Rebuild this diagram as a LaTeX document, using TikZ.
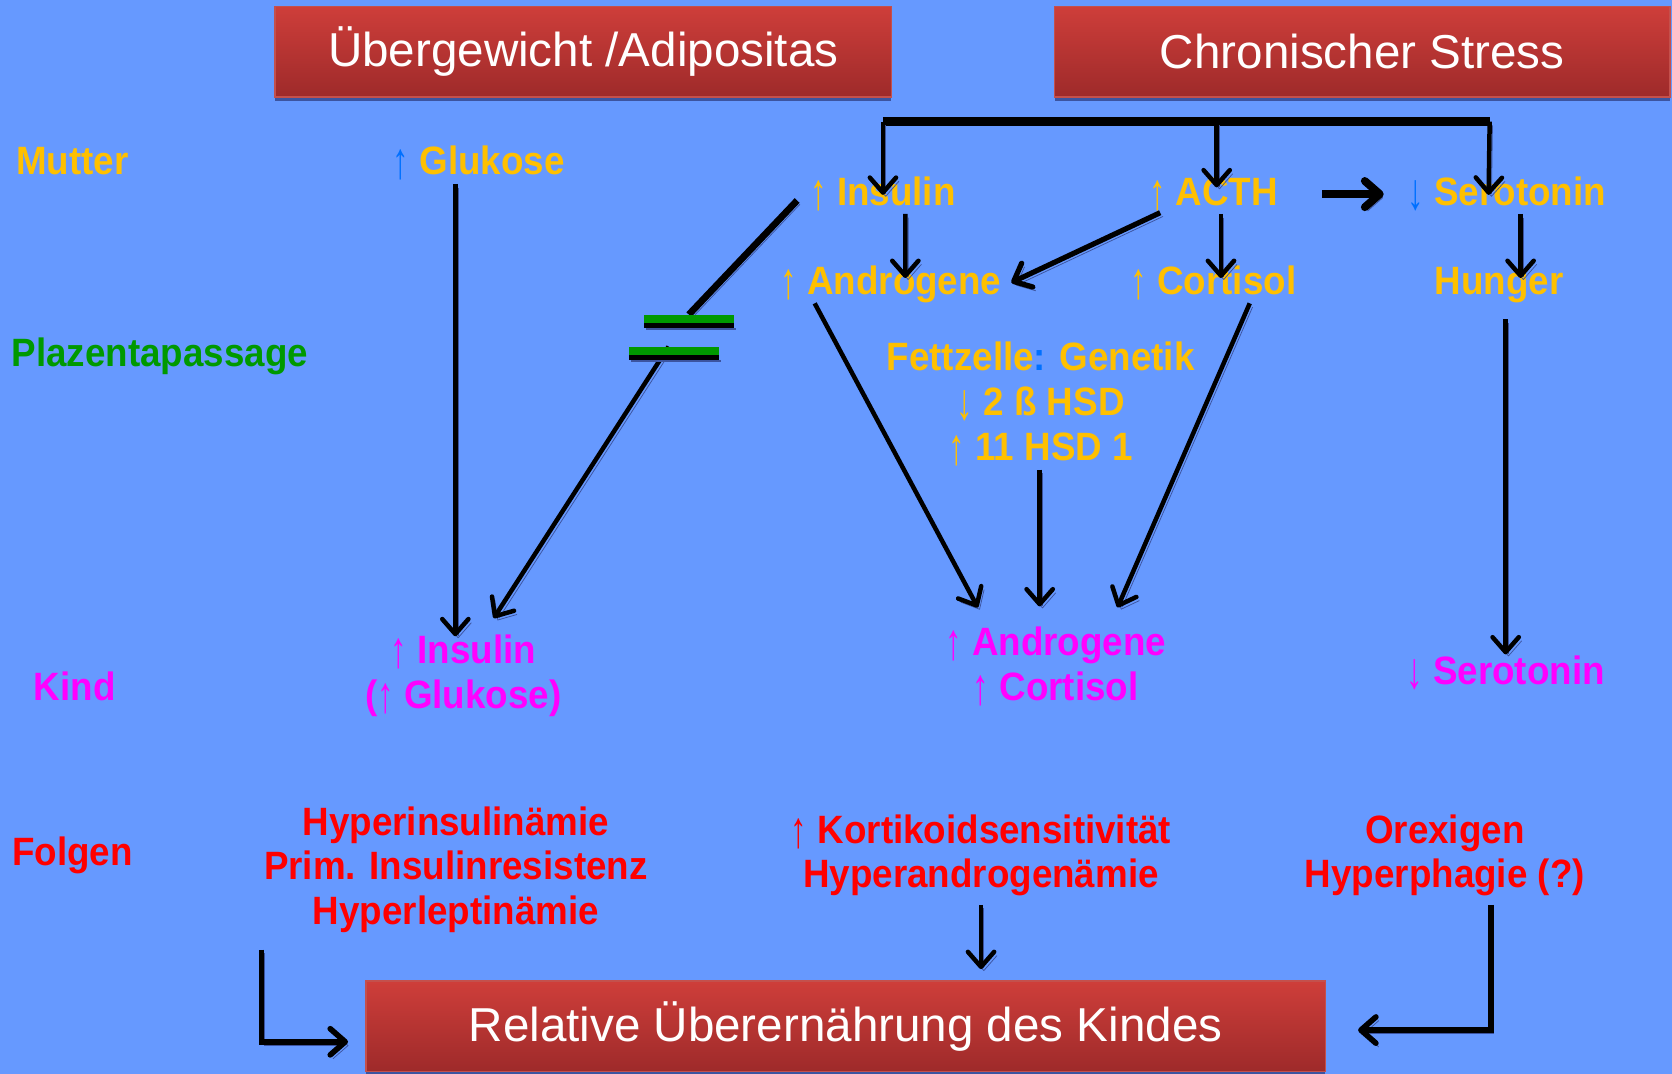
\documentclass[tikz,border=0pt]{standalone}
\usepackage{fontspec}
\usepackage{graphicx}
\setmainfont{Liberation Sans}
\newfontfamily\lblfont[FakeStretch=0.93]{Liberation Sans}
\usetikzlibrary{arrows.meta,calc,shadows}

\definecolor{bgblue}{RGB}{102,153,255}
\definecolor{orng}{RGB}{255,192,0}
\definecolor{abl}{RGB}{0,112,255}
\definecolor{grn}{RGB}{0,153,0}
\definecolor{mag}{RGB}{255,0,255}
\definecolor{rd}{RGB}{255,0,0}
\definecolor{boxtop}{RGB}{206,62,58}
\definecolor{boxbot}{RGB}{158,42,42}
\definecolor{boxedge}{RGB}{196,80,76}
\definecolor{shadowblue}{RGB}{60,84,160}

\newcommand\upar[1]{{\mdseries\color{#1}\raisebox{-0.1em}{\scalebox{0.9}[1.3]{↑}}}}
\newcommand\dnar[1]{{\mdseries\color{#1}\raisebox{-0.1em}{\scalebox{0.9}[1.3]{↓}}}}

\begin{document}
\begin{tikzpicture}[x=0.02cm,y=-0.02cm,
    lbl/.style={inner sep=0pt, text height=0.72em, text depth=0.2em, align=center, anchor=base,
        font=\lblfont\bfseries\fontsize{21.1}{23.8}\selectfont},
    redbox/.style={draw=boxedge, line width=0.8pt, top color=boxtop, bottom color=boxbot,
        minimum height=1.7cm, text=white, font=\fontsize{25.4}{30}\selectfont,
        drop shadow={shadow xshift=0pt, shadow yshift=-2pt, fill=shadowblue, opacity=1}},
    shadowed/.style={preaction={draw=shadowblue, transform canvas={shift={(1.5pt,-2pt)}}}},
    link/.style={-{Straight Barb[length=8pt,width=14pt,round]}, line width=2.4pt, shadowed},
    heavy/.style={link, line width=3pt},
    bus/.style={line width=4.5pt, shadowed}
]

    \useasboundingbox (0,0) rectangle (1568,1007);
    \fill[bgblue] (0,0) rectangle (1568,1007);

    % Red title boxes
    \node[redbox, minimum width=11.56cm] (adip) at (547,48.5) {Übergewicht /Adipositas};
    \node[redbox, minimum width=11.54cm] (stress) at (1277.5,48.5) {Chronischer Stress};
    \node[redbox, minimum width=18cm] (ueber) at (793,962.5) {Relative Überernährung des Kindes};

    % Row labels
    \node[lbl, text=orng] (mut) at (68,164) {Mutter};
    \node[lbl, text=grn] (plz) at (150,344) {Plazentapassage};
    \node[lbl, text=mag] (kind) at (70,657) {Kind};
    \node[lbl, text=rd] (folg) at (68,812) {Folgen};

    % Mother
    \node[lbl, text=orng] (gluM) at (449,164) {\upar{abl} Glukose};
    \node[lbl, text=orng] (insM) at (828,193) {\upar{orng} Insulin};
    \node[lbl, text=orng] (acth) at (1138,193) {\upar{orng} ACTH};
    \node[lbl, text=orng] (serM) at (1413,193) {\dnar{abl} Serotonin};
    \node[lbl, text=orng] (andM) at (835.5,276) {\upar{orng} Androgene};
    \node[lbl, text=orng] (corM) at (1138,276) {\upar{orng} Cortisol};
    \node[lbl, text=orng] (hung) at (1406,276) {Hunger};
    \node[lbl, text=orng] (fett) at (976,431.5) {Fettzelle{\color{abl}:} Genetik\\
        \dnar{orng} 2 ß HSD\\ \upar{orng} 11 HSD 1};

    % Child
    \node[lbl, text=mag] (insK) at (434.5,664.5) {\upar{mag} Insulin\\(\upar{mag} Glukose)};
    \node[lbl, text=mag] (hormK) at (990,657) {\upar{mag} Androgene\\\upar{mag} Cortisol};
    \node[lbl, text=mag] (serK) at (1412,642) {\dnar{mag} Serotonin};

    % Consequences
    \node[lbl, text=rd] (folgA) at (427.5,867) {Hyperinsulinämie\\Prim. Insulinresistenz\\Hyperleptinämie};
    \node[lbl, text=rd] (folgB) at (920,832.5) {\upar{rd} Kortikoidsensitivität\\Hyperandrogenämie};
    \node[lbl, text=rd] (folgC) at (1355,832.5) {Orexigen\\Hyperphagie (?)};

    % Stress bus
    \coordinate (busL) at (828,114);
    \coordinate (busM) at (1141,114);
    \coordinate (busR) at (1397,114);
    \draw[bus] (busL) -- (busR);
    \draw[link] (busL) -- ($(insM.north)+(0,2.7)$);
    \draw[link] (busM) -- ($(acth.north)+(3,-4.3)$);
    \draw[link] (busR) -- ($(serM.north)+(-17,2.7)$);

    % Mother level arrows
    \draw[link] ($(insM.south)+(21,3.6)$) -- ($(andM.north)+(13.5,-2.3)$);
    \draw[link, line width=2.8pt] ($(acth.south)+(-50,2.6)$) -- ($(andM.east)+(9,-6.4)$);
    \draw[link] ($(acth.south)+(7,3.6)$) -- ($(corM.north)+(7,-2.3)$);
    \draw[link, line width=4.2pt] ($(acth.east)+(41,-6.4)$) -- ($(serM.west)+(-22,-6.4)$);
    \draw[link] ($(serM.south)+(13,3.6)$) -- ($(hung.north)+(20,-2.3)$);

    % Placental passage
    \coordinate (cutA) at (646,295);
    \coordinate (cutB) at (627,325);
    \draw[line width=3.6pt, shadowed] ($(insM.west)+(-12,-0.4)$) -- (cutA);
    \draw[link] (cutB) -- ($(insK.north)+(28.5,-71.8)$);
    \draw[link] ($(gluM.south)+(-22,4.6)$) -- ($(insK.north)+(-7.5,-54.8)$);
    \draw[link] ($(andM.south)+(-71.5,4.6)$) -- ($(hormK.north)+(-73,-74.3)$);
    \draw[link] ($(fett.south)+(-1,5.1)$) -- ($(hormK.north)+(-15,-75.3)$);
    \draw[link] ($(corM.south)+(34,4.6)$) -- ($(hormK.north)+(58,-74.3)$);
    \draw[link] ($(hung.south)+(6,19.6)$) -- ($(serK.north)+(0,-15.3)$);

    % Not-equal sign
    \fill[shadowblue] (606,307.5) rectangle (690,309.5);
    \fill[black] (604,302) rectangle (688,307.5);
    \fill[grn] (604,295) rectangle (688,302.5);
    \fill[shadowblue] (592,337.5) rectangle (676,339.5);
    \fill[black] (590,332) rectangle (674,337.5);
    \fill[grn] (590,325) rectangle (674,332.5);

    % Into the bottom box
    \draw[link] ($(folgB.south)+(0,12.1)$) -- ($(ueber.north)+(127,-10.5)$);
    \draw[heavy] ($(folgA.south west)+(-2,19.6)$) |- ($(ueber.west)+(-16,14.5)$);
    \draw[heavy] ($(folgC.south)+(43,12.1)$) |- ($(ueber.east)+(30,3.5)$);

\end{tikzpicture}
\end{document}
